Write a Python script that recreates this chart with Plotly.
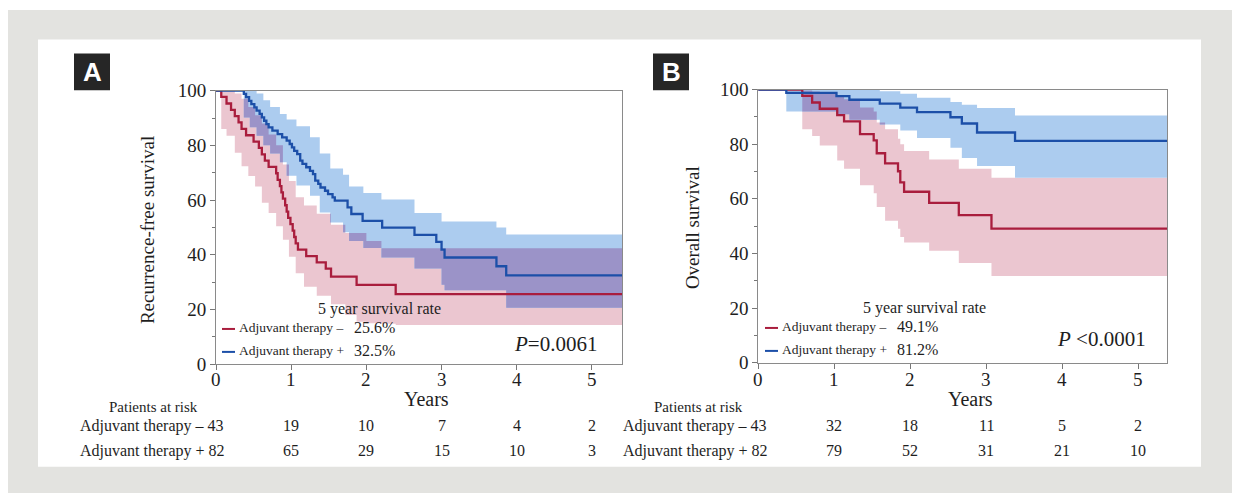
import numpy as np
import plotly.graph_objects as go

W, H = 1240, 504

# ---------------- data ----------------
# Panel A: recurrence-free survival (%)
red_A_t = [0, 0.07, 0.14, 0.20, 0.25, 0.30, 0.34, 0.40, 0.50, 0.57, 0.61, 0.65, 0.70, 0.80, 0.82, 0.85, 0.87,
           0.89, 0.92, 0.94, 0.96, 0.99, 1.02, 1.04, 1.06, 1.09, 1.20, 1.34, 1.46, 1.53, 1.87, 2.39, 5.4]
red_A_s = [100, 97.7, 95.3, 93.0, 90.7, 88.4, 86.0, 83.7, 81.4, 79.1, 76.7, 74.4, 72.1, 69.8, 67.4, 65.1, 62.8,
           60.5, 58.1, 55.8, 53.5, 51.2, 48.8, 46.5, 44.2, 41.9, 39.5, 37.2, 34.9, 32.0, 29.0, 25.6, 25.6]
red_A_ci_t = [0, 0.07, 0.14, 0.25, 0.34, 0.43, 0.52, 0.61, 0.70, 0.80, 0.89, 0.97, 1.06, 1.17, 1.34, 1.53,
              1.72, 1.87, 2.0, 2.2, 2.39, 5.4]
red_A_lo = [100, 86, 83.5, 77.3, 72.4, 68.8, 65, 59, 55.3, 50.4, 45.5, 39.3, 33.2, 28.3, 25, 21.9,
            18, 15.5, 15, 14.8, 14.3, 14.3]
red_A_hi = [100, 100, 100, 99, 97, 94, 91, 88, 84, 80, 73, 67, 61, 58, 55, 51,
            48, 48, 45, 42.4, 42.4, 42.4]

blue_A_t = [0, 0.37, 0.40, 0.44, 0.47, 0.51, 0.54, 0.58, 0.61, 0.64, 0.67, 0.70, 0.75, 0.82, 0.88, 0.94,
            0.98, 1.01, 1.04, 1.08, 1.12, 1.15, 1.20, 1.25, 1.29, 1.32, 1.36, 1.39, 1.45, 1.49, 1.55, 1.58,
            1.75, 1.80, 1.95, 2.21, 2.64, 2.93, 3.00, 3.04, 3.73, 3.86, 5.4]
blue_A_s = [100, 98.8, 97.6, 96.3, 95.1, 93.9, 92.7, 91.5, 90.2, 89.0, 87.8, 86.6, 85.4, 84.1, 82.9, 81.7,
            80.5, 79.3, 78.0, 76.8, 74.4, 73.2, 72.0, 70.7, 69.5, 67.1, 65.9, 64.6, 63.4, 62.2, 61.0, 59.8,
            57.3, 54.9, 52.4, 49.9, 47.3, 44.7, 41.9, 39.0, 35.8, 32.5, 32.5]
blue_A_ci_t = [0, 0.37, 0.45, 0.54, 0.63, 0.72, 0.85, 0.94, 1.07, 1.25, 1.38, 1.52, 1.69, 1.77, 1.96, 2.2,
               2.64, 3.0, 3.04, 3.73, 3.86, 5.4]
blue_A_lo = [100, 90.2, 86.6, 83.5, 80, 77, 73.8, 68.9, 65.3, 61.6, 55.5, 51.8, 48.2, 45, 42.5, 39,
             35, 29, 27, 27, 20.6, 20.6]
blue_A_hi = [100, 100, 100, 99, 96.5, 94, 91.5, 89.5, 87, 83, 77, 71.5, 69.3, 65, 62.6, 60.2,
             55.3, 52.2, 52.2, 50, 47.4, 47.4]

# Panel B: overall survival (%)
red_B_t = [0, 0.58, 0.71, 0.81, 1.04, 1.13, 1.34, 1.52, 1.56, 1.67, 1.84, 1.87, 1.92, 2.25, 2.64, 3.07, 5.4]
red_B_s = [100, 97.7, 95.3, 93.0, 90.7, 88.4, 83.7, 81.4, 76.7, 73.0, 70.1, 66.0, 62.6, 58.5, 54.0, 49.1, 49.1]
red_B_lo = [100, 85.5, 83, 79.5, 74, 71, 65, 62, 57, 52, 49, 46, 44, 41, 36.5, 31.7, 31.7]
red_B_hi = [100, 99.7, 99.3, 99, 97.5, 96.5, 93.5, 92, 88, 85.5, 82, 80, 77.5, 74.4, 71, 67.7, 67.7]

blue_B_t = [0, 0.37, 1.03, 1.2, 1.6, 1.87, 2.09, 2.53, 2.68, 2.88, 3.38, 5.4]
blue_B_s = [100, 98.8, 97.6, 96.3, 94.9, 93.4, 91.8, 89.9, 87.6, 84.3, 81.2, 81.2]
blue_B_lo = [100, 92, 91, 89, 87.2, 85, 82.3, 78.7, 75, 72, 67.7, 67.7]
blue_B_hi = [100, 100, 100, 100, 99.4, 98.5, 97, 95.5, 94.5, 93.3, 90.5, 90.5]

x_ticks = [0, 1, 2, 3, 4, 5]
y_ticks = [0, 20, 40, 60, 80, 100]
years = [1, 2, 3, 4, 5]
risk_A_minus = ["19", "10", "7", "4", "2"]
risk_A_plus = ["65", "29", "15", "10", "3"]
risk_B_minus = ["32", "18", "11", "5", "2"]
risk_B_plus = ["79", "52", "31", "21", "10"]

rate_A = ["25.6%", "32.5%"]
rate_B = ["49.1%", "81.2%"]
p_A = "<i>P</i>=0.0061"
p_B = "<i>P</i> <0.0001"

# ---------------- style ----------------
RED = "#a91d3d"
BLUE = "#1c4fa8"
PINK = "#ebc6d0"
LBLUE = "#acccef"
PURPLE = "#9b93c8"
TXT = "#1e1e1e"
SERIF = "Liberation Serif"

# vertical calibration of the rendered page (target pixel -> figure pixel)
VS, VO = 0.96, 8.5


def px(x):
    return x / W


def py(y):
    yf = (y - VO) / VS
    return min(1.0, max(0.0, 1 - yf / H))


def step_at(ts, vs, grid):
    ts = np.asarray(ts)
    vs = np.asarray(vs)
    idx = np.searchsorted(ts, grid, side="right") - 1
    idx = np.clip(idx, 0, len(vs) - 1)
    return vs[idx]


fig = go.Figure()


def add_band(t, lo, hi, color, xa, ya):
    fig.add_trace(go.Scatter(x=t, y=hi, mode="lines", line=dict(width=0, shape="hv", color=color),
                             xaxis=xa, yaxis=ya, showlegend=False, hoverinfo="skip"))
    fig.add_trace(go.Scatter(x=t, y=lo, mode="lines", line=dict(width=0, shape="hv", color=color),
                             fill="tonexty", fillcolor=color, xaxis=xa, yaxis=ya,
                             showlegend=False, hoverinfo="skip"))


def add_overlap(t1, lo1, hi1, t2, lo2, hi2, xa, ya):
    grid = np.union1d(np.asarray(t1, float), np.asarray(t2, float))
    lo = np.maximum(step_at(t1, lo1, grid), step_at(t2, lo2, grid))
    hi = np.minimum(step_at(t1, hi1, grid), step_at(t2, hi2, grid))
    hi = np.where(hi < lo, lo, hi)
    add_band(grid, lo, hi, PURPLE, xa, ya)


def add_curve(t, s, color, xa, ya):
    fig.add_trace(go.Scatter(x=t, y=s, mode="lines", line=dict(width=2.3, shape="hv", color=color),
                             xaxis=xa, yaxis=ya, showlegend=False, hoverinfo="skip"))


# Panel A
add_band(red_A_ci_t, red_A_lo, red_A_hi, PINK, "x", "y")
add_band(blue_A_ci_t, blue_A_lo, blue_A_hi, LBLUE, "x", "y")
add_overlap(red_A_ci_t, red_A_lo, red_A_hi, blue_A_ci_t, blue_A_lo, blue_A_hi, "x", "y")
add_curve(red_A_t, red_A_s, RED, "x", "y")
add_curve(blue_A_t, blue_A_s, BLUE, "x", "y")

# Panel B
add_band(red_B_t, red_B_lo, red_B_hi, PINK, "x2", "y2")
add_band(blue_B_t, blue_B_lo, blue_B_hi, LBLUE, "x2", "y2")
add_overlap(red_B_t, red_B_lo, red_B_hi, blue_B_t, blue_B_lo, blue_B_hi, "x2", "y2")
add_curve(red_B_t, red_B_s, RED, "x2", "y2")
add_curve(blue_B_t, blue_B_s, BLUE, "x2", "y2")

axis_common = dict(showgrid=False, zeroline=False, showline=True, linecolor="#8a8a8a", linewidth=1,
                   mirror=True, ticks="outside", tickcolor="#777", tickwidth=1, ticklen=5,
                   tickfont=dict(family=SERIF, size=19, color=TXT))
minor_y = dict(tickvals=[10, 30, 50, 70, 90], ticklen=3, ticks="outside", tickcolor="#777")

xa = dict(axis_common, range=[0, 5.4], tickvals=x_ticks, showticklabels=False,
          domain=[px(216), px(622)], anchor="y")
ya = dict(axis_common, range=[0, 100], tickvals=y_ticks, minor=minor_y,
          domain=[py(363.3), py(89.3)], anchor="x")
xb = dict(axis_common, range=[0, 5.38], tickvals=x_ticks, showticklabels=False,
          domain=[px(758.2), px(1167)], anchor="y2")
yb = dict(axis_common, range=[0, 100], tickvals=y_ticks, minor=minor_y,
          domain=[py(361.7), py(88.3)], anchor="x2")

shapes = [
    dict(type="rect", xref="paper", yref="paper", x0=px(8), x1=px(1232), y0=0, y1=py(8),
         fillcolor="#e3e3e0", line=dict(width=0), layer="below"),
    dict(type="rect", xref="paper", yref="paper", x0=px(38), x1=px(1201), y0=py(466), y1=py(38),
         fillcolor="#ffffff", line=dict(width=0), layer="below"),
    dict(type="rect", xref="paper", yref="paper", x0=px(74), x1=px(110), y0=py(89), y1=py(52),
         fillcolor="#262626", line=dict(width=0)),
    dict(type="rect", xref="paper", yref="paper", x0=px(653), x1=px(689), y0=py(89), y1=py(52),
         fillcolor="#262626", line=dict(width=0)),
]

ann = []


def text(x, y, s, size, xanchor="center", color=TXT, family=SERIF, angle=0, xref="paper"):
    ann.append(dict(x=(px(x) if xref == "paper" else x), y=py(y), xref=xref, yref="paper", text=s,
                    showarrow=False, xanchor=xanchor, yanchor="middle", textangle=angle,
                    font=dict(family=family, size=size, color=color)))


def legend_line(x0, x1, y, color):
    shapes.append(dict(type="line", xref="paper", yref="paper", x0=px(x0), x1=px(x1),
                       y0=py(y), y1=py(y), line=dict(color=color, width=2)))


# panel letters
text(92, 71, "<b>A</b>", 26, color="white", family="Liberation Sans")
text(671, 71, "<b>B</b>", 26, color="white", family="Liberation Sans")

# x tick labels
for v in x_ticks:
    text(v, 379, str(v), 19, xref="x")
    text(v, 379, str(v), 19, xref="x2")

# axis titles
text(147, 229, "Recurrence-free survival", 19, angle=-90)
text(692, 227, "Overall survival", 19, angle=-90)
text(426, 398, "Years", 20)
text(970, 398, "Years", 20)

# legends inside plots
for (dx, tx, vx, cy, rates, ptxt, pxc, pyc) in [
        (222, 379, 352, 308, rate_A, p_A, 555, 343),
        (765, 924, 895, 307, rate_B, p_B, 1101, 338)]:
    text(tx, cy, "5 year survival rate", 16)
    legend_line(dx, dx + 13, cy + 20, RED)
    legend_line(dx, dx + 13, cy + 43, BLUE)
    text(dx + 15, cy + 19, "Adjuvant therapy –", 13.5, xanchor="left")
    text(dx + 15, cy + 42, "Adjuvant therapy +", 13.5, xanchor="left")
    text(vx, cy + 19, rates[0], 16, xanchor="left")
    text(vx, cy + 42, rates[1], 16, xanchor="left")
    text(pxc, pyc, ptxt, 21)

# risk tables
text(153, 406, "Patients at risk", 15)
text(698, 406, "Patients at risk", 15)
text(78, 425, "Adjuvant therapy – 43", 16, xanchor="left")
text(78, 450, "Adjuvant therapy + 82", 16, xanchor="left")
text(621, 425, "Adjuvant therapy – 43", 16, xanchor="left")
text(621, 450, "Adjuvant therapy + 82", 16, xanchor="left")
for i, yr in enumerate(years):
    text(yr, 425, risk_A_minus[i], 16, xref="x")
    text(yr, 450, risk_A_plus[i], 16, xref="x")
    text(yr, 425, risk_B_minus[i], 16, xref="x2")
    text(yr, 450, risk_B_plus[i], 16, xref="x2")

fig.update_layout(
    width=W, height=H, margin=dict(l=0, r=0, t=0, b=0),
    paper_bgcolor="white", plot_bgcolor="white",
    xaxis=xa, yaxis=ya, xaxis2=xb, yaxis2=yb,
    shapes=shapes, annotations=ann, showlegend=False,
)

fig.write_html("out.html", config={"displayModeBar": False},
               post_script="document.body.style.margin='0px';")
